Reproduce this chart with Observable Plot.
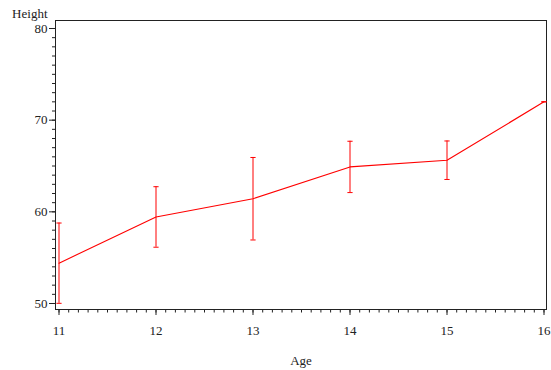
<!DOCTYPE html>
<html>
<head>
<meta charset="utf-8">
<script src="https://cdn.jsdelivr.net/npm/d3@7"></script>
<script src="https://cdn.jsdelivr.net/npm/@observablehq/plot@0.6"></script>
<style>
  html, body { margin: 0; padding: 0; background: #fff; }
  #chart svg { display: block; }
</style>
</head>
<body>
<div id="chart"></div>
<script>
// Mean height by age, with one standard deviation either side
const ages = [11, 12, 13, 14, 15, 16];
const meanHeight = [54.4, 59.44, 61.43, 64.9, 65.63, 72.0];
const sdHeight = [4.38, 3.30, 4.50, 2.80, 2.10, 0];

// Axis tick labels
const xTicks = [11, 12, 13, 14, 15, 16];
const yTicks = [50, 60, 70, 80];

const rows = ages.map((age, i) => ({
  age,
  mean: meanHeight[i],
  lo: meanHeight[i] - sdHeight[i],
  hi: meanHeight[i] + sdHeight[i]
}));

// Minor tick positions: tenths of a year, single inches
const xMinor = d3.range(110, 161).map(d => d / 10);
const yMinor = d3.range(50, 81);

// Short horizontal stroke used for the error bar caps
const cap = {
  draw(context, size) {
    const r = Math.sqrt(size / Math.PI);
    context.moveTo(-r, 0);
    context.lineTo(r, 0);
  }
};

const red = "#ff0000";
const ink = "#222";

const chart = Plot.plot({
  width: 551,
  height: 370,
  marginLeft: 55,
  marginRight: 5,
  marginTop: 20,
  marginBottom: 61,
  style: {fontFamily: "'Liberation Serif', 'Times New Roman', serif", fontSize: "13px", color: ink, background: "#fff"},
  x: {domain: [11, 16], range: [58.5, 543.5]},
  y: {domain: [50, 80], range: [303, 28]},
  marks: [
    Plot.frame({stroke: ink}),
    // minor ticks
    Plot.axisX(xMinor, {tickSize: 3.5, text: null, label: null, stroke: ink}),
    Plot.axisY(yMinor, {tickSize: 3, text: null, label: null, stroke: ink}),
    // major ticks with labels
    Plot.axisX(xTicks, {tickSize: 6, tickPadding: 10, tickFormat: d => String(d), label: null, stroke: ink, fill: ink}),
    Plot.axisY(yTicks, {tickSize: 6, tickPadding: 2, tickFormat: d => String(d), label: null, stroke: ink, fill: ink}),
    // axis titles
    Plot.text(["Age"], {frameAnchor: "bottom", dy: 55, lineAnchor: "bottom", fill: ink}),
    Plot.text(["Height"], {frameAnchor: "top-left", textAnchor: "end", lineAnchor: "bottom", dx: -8, dy: -3, fill: ink}),
    // error bars
    Plot.ruleX(rows, {x: "age", y1: "lo", y2: "hi", stroke: red, strokeWidth: 1}),
    Plot.dot(rows, {x: "age", y: "lo", symbol: cap, r: 2.6, stroke: red, strokeWidth: 1}),
    Plot.dot(rows, {x: "age", y: "hi", symbol: cap, r: 2.6, stroke: red, strokeWidth: 1}),
    // mean line
    Plot.line(rows, {x: "age", y: "mean", stroke: red, strokeWidth: 1.1})
  ]
});

document.getElementById("chart").appendChild(chart);
</script>
</body>
</html>
